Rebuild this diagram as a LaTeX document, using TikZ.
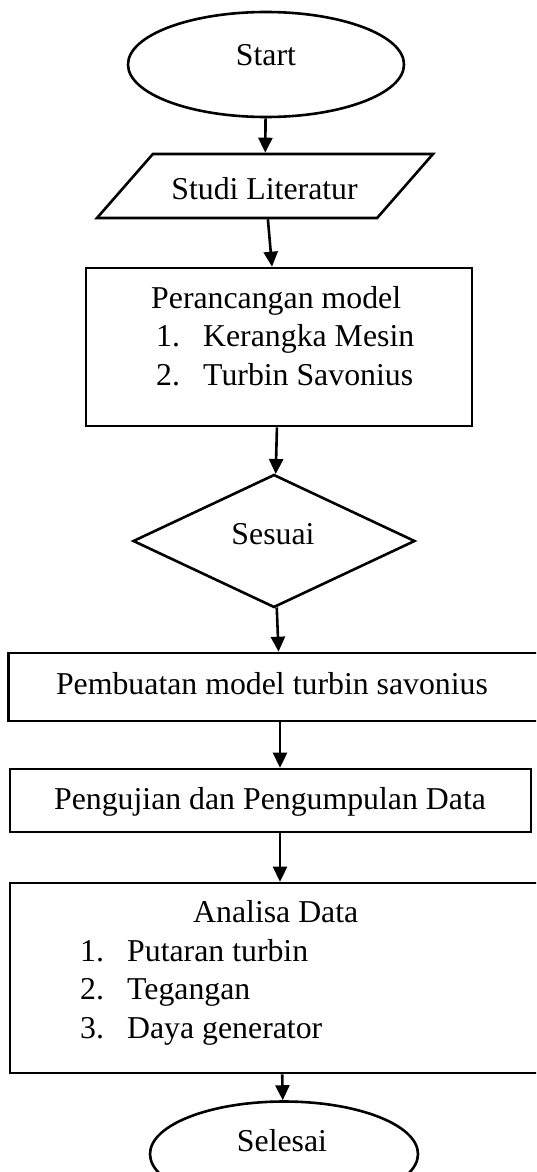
\documentclass[tikz,border=0pt]{standalone}
\usepackage{fontspec}
\setmainfont{Liberation Serif}
\usetikzlibrary{shapes.geometric,arrows.meta}

\tikzset{
  flow/.style={draw, line width=2.6pt, inner sep=1pt},
  terminal/.style={flow, ellipse},
  inout/.style={flow, trapezium, trapezium left angle=76, trapezium right angle=104, trapezium stretches=true},
  process/.style={flow, rectangle},
  decision/.style={flow, diamond, aspect=2.12},
  txt/.style={inner sep=0pt, font=\fontsize{31.8}{38.5}\selectfont},
  arr/.style={-{Triangle[width=14pt,length=15pt]}, line width=2.6pt}
}
\newcommand{\itemno}[2]{\makebox[47pt][l]{#1}#2}

\begin{document}
\begin{tikzpicture}[x=1pt,y=-1pt]
\clip (0,0) rectangle (536,1172);

\node (start)	at (266,64.5)	[terminal, minimum width=276pt, minimum height=105pt] {};
\node (studi)	at (265,186)	[inout, minimum width=336pt, minimum height=64pt] {};
\node (design)	at (279,347)	[process, minimum width=386pt, minimum height=158pt] {};
\node (check)	at (274,541)	[decision, minimum width=282pt, minimum height=133pt] {};
\node (build)	at (280,687)	[process, minimum width=543pt, minimum height=68pt] {};
\node (test)	at (270.5,800.5)	[process, minimum width=521pt, minimum height=63pt] {};
\node (analysis)	at (280,978)	[process, minimum width=540pt, minimum height=190pt] {};
\node (finish)	at (284,1154)	[terminal, minimum width=268pt, minimum height=105pt] {};

% texts (multi-line ones sit on the baseline of their last line)
\node (starttext)	at (266,66)	[txt, anchor=base] {Start};
\node (studitext)	at (264.5,199)	[txt, anchor=base] {Studi Literatur};
\node (designtext)	at (151,385)	[txt, anchor=base west, align=left] {Perancangan model\\
  \hspace*{5pt}\itemno{1.}{Kerangka Mesin}\\
  \hspace*{5pt}\itemno{2.}{Turbin Savonius}};
\node (checktext)	at (273,544)	[txt, anchor=base] {Sesuai};
\node (buildtext)	at (272,694)	[txt, anchor=base] {Pembuatan model turbin savonius};
\node (testtext)	at (270,809)	[txt, anchor=base] {Pengujian dan Pengumpulan Data};
\node (analysistext)	at (80,1038)	[txt, anchor=base west, align=left] {\hspace*{113pt}Analisa Data\\
  \itemno{1.}{Putaran turbin}\\
  \itemno{2.}{Tegangan}\\
  \itemno{3.}{Daya generator}};
\node (finishtext)	at (282,1151)	[txt, anchor=base] {Selesai};

\draw [arr] (start) -- (studi);
\draw [arr] (studi) -- (design);
\draw [arr] (design) -- (check);
\draw [arr] (check) -- (build);
\draw [arr] (build.south) -- (build.south |- test.north);
\draw [arr] (test.south -| analysis.north) -- (analysis.north);
\draw [arr] (analysis) -- (finish);

\end{tikzpicture}
\end{document}
